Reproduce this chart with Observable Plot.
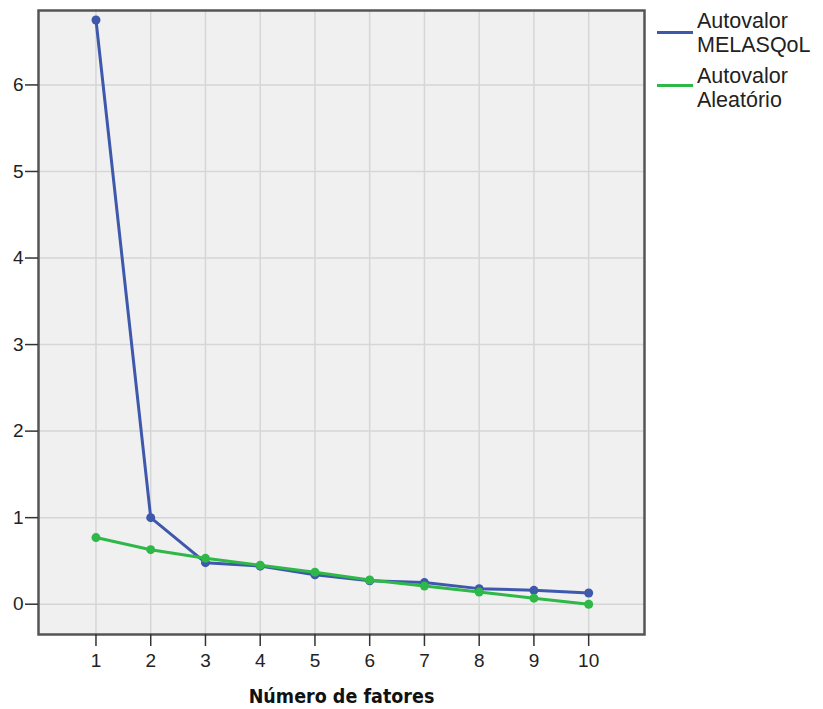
<!DOCTYPE html>
<html>
<head>
<meta charset="utf-8">
<script src="https://cdn.jsdelivr.net/npm/d3@7"></script>
<script src="https://cdn.jsdelivr.net/npm/@observablehq/plot@0.6"></script>
<style>
  html, body { margin: 0; padding: 0; background: #ffffff; }
  #wrap { position: relative; width: 823px; height: 709px; }
  .lg-line { position: absolute; height: 3px; width: 36px; left: 657px; }
  .lg-text { position: absolute; left: 697px; font-family: "Liberation Sans", Arial, sans-serif; font-size: 21.5px; line-height: 24px; color: #222; white-space: nowrap; }
  .xtitle text { font-stretch: condensed; }
</style>
</head>
<body>
<div id="wrap"></div>
<script>
// Data
const factors = [1, 2, 3, 4, 5, 6, 7, 8, 9, 10];
const melasqol = [6.75, 1.00, 0.48, 0.44, 0.34, 0.27, 0.25, 0.18, 0.16, 0.13];
const aleatorio = [0.77, 0.63, 0.53, 0.45, 0.37, 0.28, 0.21, 0.14, 0.07, 0.00];
const seriesNames = ["Autovalor MELASQoL", "Autovalor Aleatório"];
const seriesColors = ["#3E58AC", "#2EB848"];
const xTicks = [1, 2, 3, 4, 5, 6, 7, 8, 9, 10];
const yTicks = [0, 1, 2, 3, 4, 5, 6];
const xTitle = "Número de fatores";

const rows = [];
factors.forEach((f, i) => rows.push({factor: f, value: melasqol[i], series: seriesNames[0]}));
factors.forEach((f, i) => rows.push({factor: f, value: aleatorio[i], series: seriesNames[1]}));
const s0 = rows.filter(d => d.series === seriesNames[0]);
const s1 = rows.filter(d => d.series === seriesNames[1]);

const chart = Plot.plot({
  width: 823,
  height: 709,
  marginLeft: 38,
  marginRight: 179,
  marginTop: 10,
  marginBottom: 75,
  x: {domain: [-0.05, 11.02]},
  y: {domain: [-0.35, 6.86]},
  style: {fontFamily: "'Liberation Sans', Arial, sans-serif", fontSize: "19px", color: "#222", background: "white"},
  marks: [
    Plot.frame({fill: "#F0F0F0", stroke: null}),
    Plot.gridX(xTicks, {stroke: "#D6D6D6", strokeOpacity: 1, strokeWidth: 1.5}),
    Plot.gridY(yTicks, {stroke: "#D6D6D6", strokeOpacity: 1, strokeWidth: 1.5}),
    Plot.line(s0, {x: "factor", y: "value", stroke: seriesColors[0], strokeWidth: 3}),
    Plot.dot(s0, {x: "factor", y: "value", fill: seriesColors[0], r: 4.5}),
    Plot.line(s1, {x: "factor", y: "value", stroke: seriesColors[1], strokeWidth: 3}),
    Plot.dot(s1, {x: "factor", y: "value", fill: seriesColors[1], r: 4.5}),
    Plot.frame({stroke: "#555", strokeWidth: 2.5}),
    Plot.axisX(xTicks, {tickSize: 12, tickPadding: 7, label: null, stroke: "#333", strokeWidth: 1.5, tickFormat: d => String(d)}),
    Plot.axisY(yTicks, {tickSize: 13, tickPadding: 2, label: null, stroke: "#333", strokeWidth: 1.5, tickFormat: d => String(d)}),
    Plot.text([xTitle], {frameAnchor: "bottom", text: d => d, dy: 62, lineAnchor: "middle", fontWeight: "bold", fontSize: 19.5, fontFamily: "'DejaVu Sans Condensed', 'DejaVu Sans', sans-serif", fill: "#111", className: "xtitle"})
  ]
});

const wrap = document.getElementById("wrap");
wrap.appendChild(chart);

// Legend (to the right of the plot)
const legendItems = [
  {lines: ["Autovalor", "MELASQoL"], color: seriesColors[0], lineTop: 31, textTop: 9},
  {lines: ["Autovalor", "Aleatório"], color: seriesColors[1], lineTop: 84, textTop: 64}
];
legendItems.forEach(it => {
  const ln = document.createElement("div");
  ln.className = "lg-line";
  ln.style.top = it.lineTop + "px";
  ln.style.background = it.color;
  wrap.appendChild(ln);
  const tx = document.createElement("div");
  tx.className = "lg-text";
  tx.style.top = it.textTop + "px";
  tx.innerHTML = it.lines.join("<br>");
  wrap.appendChild(tx);
});
</script>
</body>
</html>
